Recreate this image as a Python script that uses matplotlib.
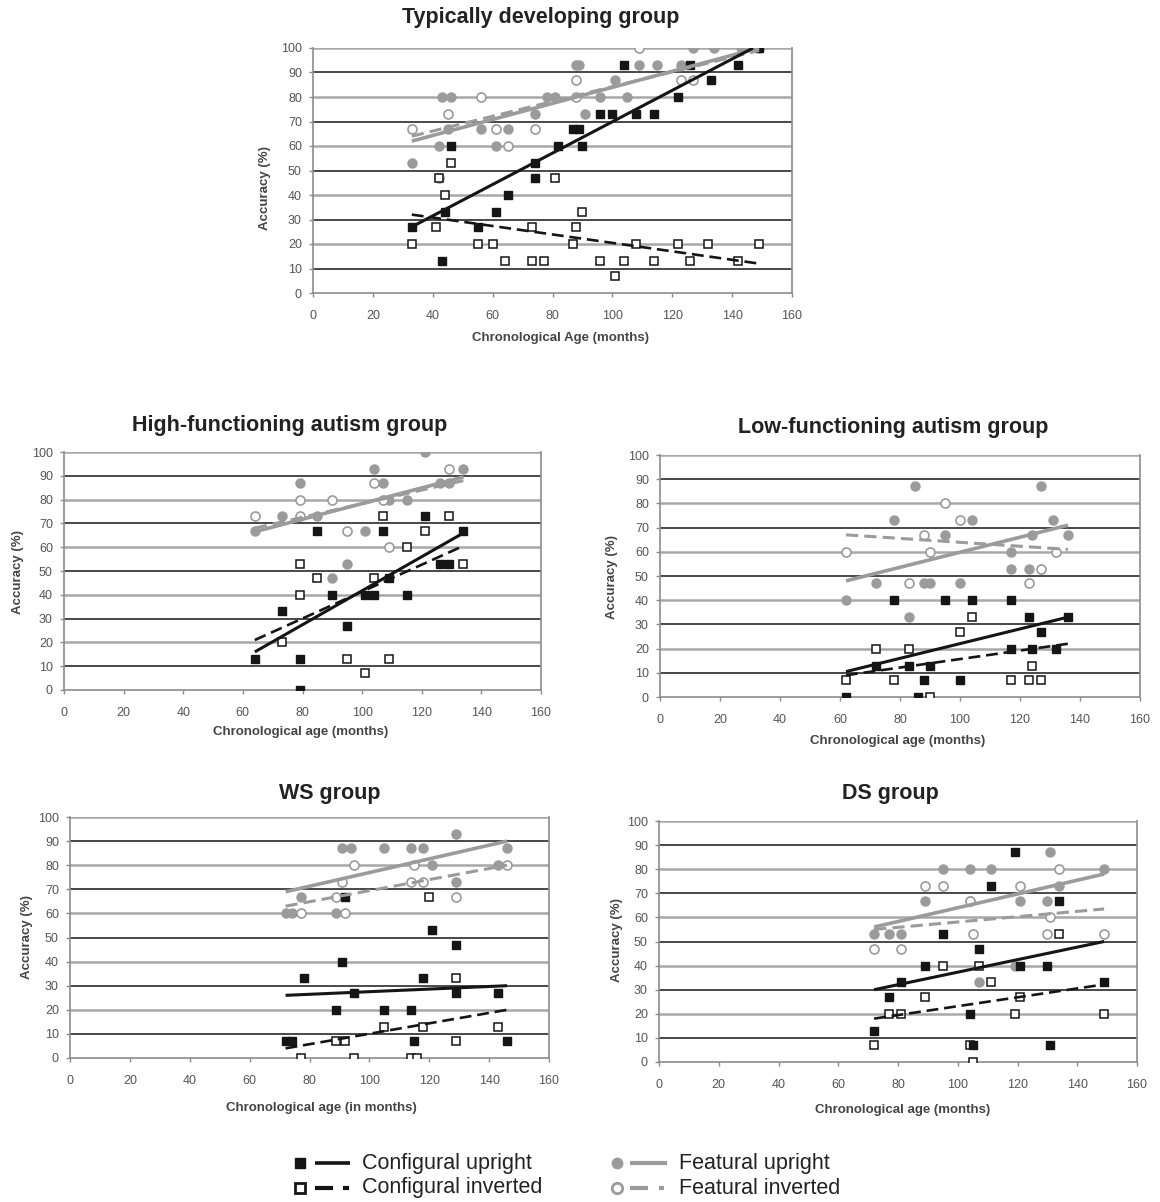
import numpy as np
import matplotlib.pyplot as plt

plt.rcParams['font.family'] = ['Liberation Sans', 'DejaVu Sans']

W, H = 1160, 1202

# ---- data: (chronological age in months, accuracy %) ----
# Typically developing group
td_cu = [(33, 27), (43, 13), (44, 33), (46, 60), (55, 27), (61, 33), (65, 40), (74, 47),
         (74, 53), (82, 60), (87, 67), (89, 67), (90, 60), (96, 73), (100, 73), (104, 93),
         (108, 73), (114, 73), (122, 80), (126, 93), (133, 87), (142, 93), (149, 100)]
td_ci = [(33, 20), (41, 27), (42, 47), (44, 40), (46, 53), (55, 20), (60, 20), (64, 13),
         (73, 27), (73, 13), (77, 13), (81, 47), (87, 20), (88, 27), (90, 33), (96, 13),
         (101, 7), (104, 13), (108, 20), (114, 13), (122, 20), (126, 13), (132, 20),
         (142, 13), (149, 20)]
td_fu = [(33, 53), (42, 60), (43, 80), (46, 80), (45, 67), (56, 67), (65, 67), (61, 60),
         (74, 73), (78, 80), (81, 80), (88, 93), (89, 93), (91, 73), (96, 80), (101, 87),
         (105, 80), (109, 93), (115, 93), (123, 93), (127, 100), (134, 100), (143, 100),
         (149, 100)]
td_fi = [(33, 67), (45, 73), (56, 80), (61, 67), (65, 60), (74, 67), (88, 87), (88, 80),
         (109, 100), (123, 87), (127, 87), (42, 47)]
# trend lines (age0, acc0, age1, acc1): config up, config inv, feat up, feat inv
td_trend = [(33, 27, 147, 100), (33, 32, 149, 12), (33, 62, 149, 100), (33, 64, 149, 99)]

# High-functioning autism group
hfa_cu = [(64, 13), (73, 33), (79, 13), (79, 0), (85, 67), (90, 40), (95, 27), (101, 40),
          (104, 40), (107, 67), (109, 47), (115, 40), (121, 73), (126, 53), (129, 53),
          (134, 67)]
hfa_ci = [(73, 20), (79, 53), (79, 40), (85, 47), (95, 13), (101, 7), (104, 47), (107, 73),
          (109, 13), (115, 60), (121, 67), (129, 73), (134, 53)]
hfa_fu = [(64, 67), (73, 73), (79, 87), (85, 73), (90, 47), (95, 53), (101, 67), (104, 93),
          (107, 87), (109, 80), (115, 80), (121, 100), (126, 87), (129, 87), (134, 93)]
hfa_fi = [(64, 73), (79, 80), (79, 73), (90, 80), (95, 67), (104, 87), (107, 80), (109, 60),
          (129, 93)]
hfa_trend = [(64, 16, 134, 66), (64, 21, 133, 60), (64, 66.5, 134, 89.5), (64, 68, 134, 88)]

# Low-functioning autism group
lfa_cu = [(62, 0), (72, 13), (78, 40), (83, 13), (86, 0), (88, 7), (90, 13), (95, 40),
          (100, 7), (104, 40), (117, 40), (117, 20), (123, 33), (124, 20), (127, 27),
          (132, 20), (136, 33)]
lfa_ci = [(62, 7), (72, 20), (78, 7), (83, 20), (90, 0), (100, 27), (104, 33), (117, 7),
          (123, 7), (124, 13), (127, 7)]
lfa_fu = [(62, 40), (72, 47), (78, 73), (83, 33), (85, 87), (88, 47), (90, 47), (95, 67),
          (100, 47), (104, 73), (117, 60), (117, 53), (123, 53), (124, 67), (127, 87),
          (131, 73), (136, 67)]
lfa_fi = [(62, 60), (83, 47), (88, 67), (90, 60), (95, 80), (100, 73), (123, 47), (127, 53),
          (132, 60)]
lfa_trend = [(62, 10.5, 136, 33), (62, 9, 136, 22), (62, 48, 136, 71), (62, 67, 136, 61)]

# WS group
ws_cu = [(72, 7), (74, 7), (78, 33), (89, 20), (91, 40), (92, 67), (95, 27), (105, 20),
         (114, 20), (115, 7), (118, 33), (121, 53), (129, 47), (129, 27), (143, 27), (146, 7)]
ws_ci = [(77, 0), (89, 7), (92, 7), (95, 0), (105, 13), (114, 0), (116, 0), (118, 13),
         (120, 67), (129, 33), (129, 7), (143, 13)]
ws_fu = [(72, 60), (74, 60), (77, 67), (89, 60), (91, 87), (94, 87), (105, 87), (114, 87),
         (118, 87), (121, 80), (129, 93), (129, 73), (143, 80), (146, 87)]
ws_fi = [(77, 60), (89, 67), (91, 73), (92, 60), (95, 80), (114, 73), (115, 80), (118, 73),
         (129, 67), (146, 80)]
ws_trend = [(72, 26, 146, 30), (72, 4, 146, 20), (72, 69, 146, 90), (72, 63, 146, 80)]

# DS group
ds_cu = [(72, 13), (77, 27), (81, 33), (89, 40), (95, 53), (104, 20), (105, 7), (107, 47),
         (111, 73), (119, 87), (121, 40), (130, 40), (131, 7), (134, 67), (149, 33)]
ds_ci = [(72, 7), (77, 20), (81, 20), (89, 27), (95, 40), (104, 7), (105, 0), (107, 40),
         (111, 33), (119, 20), (121, 27), (134, 53), (149, 20)]
ds_fu = [(72, 53), (77, 53), (81, 53), (89, 67), (95, 80), (104, 80), (104, 67), (107, 33),
         (111, 80), (119, 40), (121, 67), (130, 67), (131, 87), (134, 73), (149, 80)]
ds_fi = [(72, 47), (81, 47), (89, 73), (95, 73), (104, 67), (105, 53), (121, 73), (130, 53),
         (131, 60), (134, 80), (149, 53)]
ds_trend = [(72, 30, 149, 50), (72, 18, 148, 32), (72, 56, 149, 78), (72, 55, 149, 63.5)]

BLACK = '#151515'
GRAY = '#9b9b9b'
GRID_DARK = '#3a3a3a'
GRID_LIGHT = '#a8a8a8'


def rect(left, top, right, bottom):
    return [left / W, 1 - bottom / H, (right - left) / W, (bottom - top) / H]


def draw_panel(box, groups, trend):
    ax = fig.add_axes(rect(*box))
    ax.set_xlim(0, 160)
    ax.set_ylim(0, 100)
    for v in range(10, 101, 10):
        dark = (v // 10) % 2 == 1
        ax.axhline(v, color=GRID_DARK if dark else GRID_LIGHT,
                   lw=1.3 if dark else 1.8, zorder=1)
    ax.spines['top'].set_visible(False)
    for s in ('left', 'bottom', 'right'):
        ax.spines[s].set_color('#8c8c8c')
        ax.spines[s].set_linewidth(1.2)
    ax.set_xticks(range(0, 161, 20))
    ax.set_yticks(range(0, 101, 10))
    ax.tick_params(direction='out', length=3, width=1, color='#8c8c8c',
                   labelsize=9, labelcolor='#555555')
    ax.tick_params(axis='x', pad=9.5)
    ax.tick_params(axis='y', pad=5)

    cu, ci, fu, fi = [np.array(g, dtype=float) for g in groups]
    ax.plot(fu[:, 0], fu[:, 1], 'o', ms=6.5, mfc=GRAY, mec=GRAY, zorder=3)
    ax.plot(fi[:, 0], fi[:, 1], 'o', ms=6.5, mfc='white', mec=GRAY, mew=1.2, zorder=3)
    ax.plot(ci[:, 0], ci[:, 1], 's', ms=6, mfc='white', mec=BLACK, mew=1.1, zorder=4)
    ax.plot(cu[:, 0], cu[:, 1], 's', ms=6, mfc=BLACK, mec=BLACK, zorder=4)

    styles = [(BLACK, '-', 2.2), (BLACK, (0, (4.5, 2.2)), 1.9),
              (GRAY, '-', 2.6), (GRAY, (0, (4, 2)), 2.2)]
    order = [2, 3, 0, 1]
    for i in order:
        x0, y0, x1, y1 = trend[i]
        c, ls, lw = styles[i]
        ax.plot([x0, x1], [y0, y1], color=c, ls=ls, lw=lw, zorder=5,
                solid_capstyle='butt', dash_capstyle='butt')
    return ax


fig = plt.figure(figsize=(W / 100, H / 100), dpi=100)

panels = [
    ((313, 48, 792, 293), (td_cu, td_ci, td_fu, td_fi), td_trend,
     'Typically developing group', (541, 18), 'Chronological Age (months)', (560, 338),
     (265, 188)),
    ((64, 452, 541, 690), (hfa_cu, hfa_ci, hfa_fu, hfa_fi), hfa_trend,
     'High-functioning autism group', (290, 425), 'Chronological age (months)', (301, 732),
     (18, 572)),
    ((660, 455, 1140, 697), (lfa_cu, lfa_ci, lfa_fu, lfa_fi), lfa_trend,
     'Low-functioning autism group', (893, 428), 'Chronological age (months)', (898, 741),
     (612, 577)),
    ((70, 817, 549, 1058), (ws_cu, ws_ci, ws_fu, ws_fi), ws_trend,
     'WS group', (330, 793), 'Chronological age (in months)', (321, 1108),
     (27, 937)),
    ((659, 821, 1137, 1062), (ds_cu, ds_ci, ds_fu, ds_fi), ds_trend,
     'DS group', (890, 793), 'Chronological age (months)', (903, 1110),
     (617, 940)),
]

for box, groups, trend, title, tpos, xlab, xpos, ypos in panels:
    draw_panel(box, groups, trend)
    fig.text(tpos[0] / W, 1 - tpos[1] / H, title, ha='center', va='center',
             fontsize=15.5, fontweight='bold', color='#222222')
    fig.text(xpos[0] / W, 1 - xpos[1] / H, xlab, ha='center', va='center',
             fontsize=9.5, fontweight='bold', color='#444444')
    fig.text(ypos[0] / W, 1 - ypos[1] / H, 'Accuracy (%)', ha='center', va='center',
             rotation=90, fontsize=9.5, fontweight='bold', color='#444444')

# ---- legend (manual, figure pixel space) ----
lg = fig.add_axes([0, 0, 1, 1], facecolor='none')
lg.set_xlim(0, W)
lg.set_ylim(H, 0)
lg.axis('off')
rows = [1163, 1188]
lg.plot(300, rows[0], 's', ms=7, color=BLACK)
lg.plot([315, 350], [rows[0]] * 2, color=BLACK, lw=2.6, solid_capstyle='butt')
lg.plot(300, rows[1], 's', ms=7, mfc='white', mec=BLACK, mew=2)
lg.plot([315, 333], [rows[1]] * 2, color=BLACK, lw=3, solid_capstyle='butt')
lg.plot([343, 349], [rows[1]] * 2, color=BLACK, lw=3, solid_capstyle='butt')
lg.plot(617, rows[0], 'o', ms=7.5, color=GRAY)
lg.plot([630, 667], [rows[0]] * 2, color=GRAY, lw=3, solid_capstyle='butt')
lg.plot(617, rows[1], 'o', ms=7.5, mfc='white', mec=GRAY, mew=2)
lg.plot([630, 648], [rows[1]] * 2, color=GRAY, lw=3, solid_capstyle='butt')
lg.plot([659, 664], [rows[1]] * 2, color=GRAY, lw=3, solid_capstyle='butt')
for x, labels in ((362, ('Configural upright', 'Configural inverted')),
                  (679, ('Featural upright', 'Featural inverted'))):
    for y, t in zip(rows, labels):
        lg.text(x, y, t, ha='left', va='center', fontsize=15.5, color='#222222')

fig.savefig('out.png', dpi=100)
